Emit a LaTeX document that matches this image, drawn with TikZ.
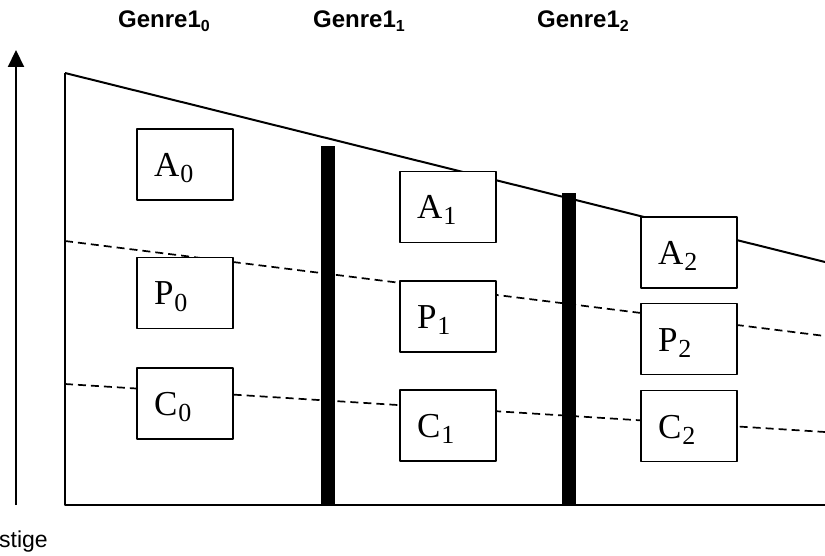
\documentclass[tikz,border=0pt]{standalone}
\usepackage{fontspec}
\setmainfont{Liberation Serif}
\setsansfont{Liberation Sans}
\usetikzlibrary{arrows.meta}
\newcommand{\feltidx}[1]{\kern1pt\raisebox{-6pt}{\fontsize{26}{26}\selectfont #1}}
\newcommand{\genreidx}[1]{\raisebox{-4pt}{\fontsize{16}{16}\selectfont #1}}
\tikzset{
 felt/.style={draw, fill=white, line width=1.9pt, minimum width=96pt, minimum height=71pt,
  inner xsep=17pt, inner ysep=0pt, text width=62pt, align=left, text height=24pt, text depth=0pt,
  font=\fontsize{35}{35}\selectfont},
 genre/.style={anchor=base west, inner sep=0pt, font=\sffamily\bfseries\fontsize{24}{24}\selectfont},
 sjikt/.style={dash pattern=on 8pt off 5pt, line width=1.7pt},
 skille/.style={fill=black}
}
\begin{document}
\begin{tikzpicture}[x=1pt, y=-1pt, line join=round, >={Triangle[length=17pt,width=16pt]}]
 \useasboundingbox (0,0) rectangle (825,556);
 % akse og ramme
 \coordinate (bunn) at (16,505);
 \coordinate (topp) at (16,50);
 \draw[->, line width=2.2pt] (bunn) -- (topp);
 \node[anchor=base west, inner sep=0pt, font=\sffamily\fontsize{23}{23}\selectfont] (stige) at (-1,547) {stige};
 \coordinate (hj) at (65,73);
 \coordinate (origo) at (65,505);
 \coordinate (hoyre) at (825,505);
 \draw[line width=2pt] (hj) -- (origo) -- (hoyre);
 \coordinate (slutt) at (825,262);
 \draw[line width=2pt] (hj) -- (slutt);
 % stiplede skiller
 \coordinate (p0) at (65,241);
 \coordinate (p1) at (825,336);
 \coordinate (c0) at (65,384);
 \coordinate (c1) at (825,432);
 \draw[sjikt] (p0) -- (p1);
 \draw[sjikt] (c0) -- (c1);
 % tykke skiller
 \fill[skille] (321,146) rectangle (335,505);
 \fill[skille] (562,193) rectangle (576,505);
 % overskrifter
 \node[genre] (g0) at (118,28) {Genre1\genreidx{0}};
 \node[genre] (g1) at (313,28) {Genre1\genreidx{1}};
 \node[genre] (g2) at (537,28) {Genre1\genreidx{2}};
 % boksene
 \node[felt] (A0) at (185,164.5) {A\feltidx{0}};
 \node[felt] (P0) at (185,293) {P\feltidx{0}};
 \node[felt] (C0) at (185,403.5) {C\feltidx{0}};
 \node[felt] (A1) at (448,207) {A\feltidx{1}};
 \node[felt] (P1) at (448,316.5) {P\feltidx{1}};
 \node[felt] (C1) at (448,425.5) {C\feltidx{1}};
 \node[felt] (A2) at (689,252.5) {A\feltidx{2}};
 \node[felt] (P2) at (689,339) {P\feltidx{2}};
 \node[felt] (C2) at (689,426) {C\feltidx{2}};
\end{tikzpicture}
\end{document}
